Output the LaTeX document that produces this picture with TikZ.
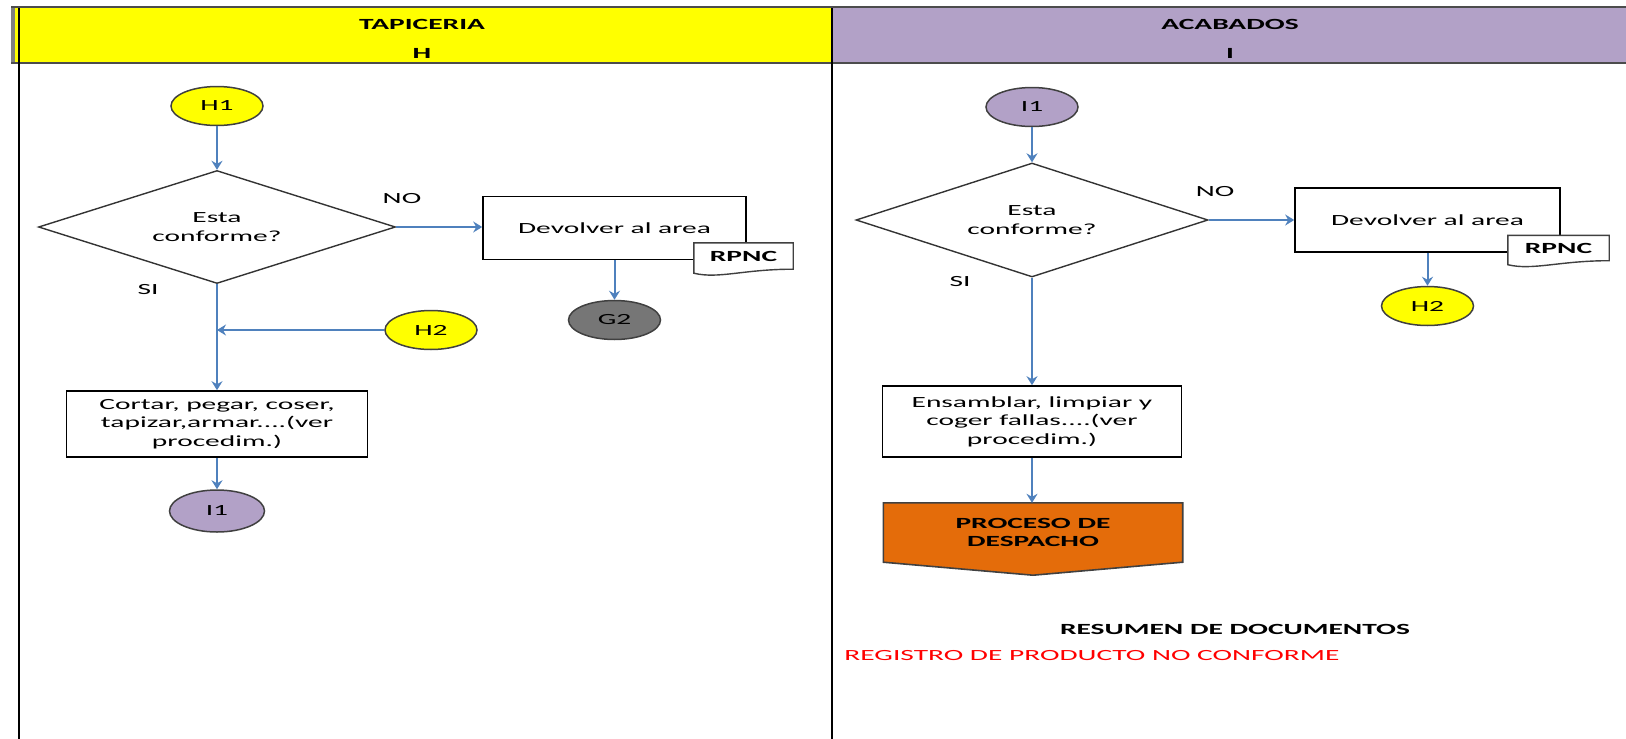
\documentclass[tikz,border=0pt]{standalone}
\usepackage{fontspec}
\setmainfont{Carlito}[FakeStretch=1.9]
\usetikzlibrary{arrows.meta,positioning,shapes.geometric}
\definecolor{amarillo}{HTML}{FFFF00}
\definecolor{lila}{HTML}{B2A1C7}
\definecolor{azul}{HTML}{4F81BD}
\definecolor{naranja}{HTML}{E46C0A}
\definecolor{gris}{HTML}{767676}
\newcommand{\fuente}{\fontsize{15.5}{18.6}\selectfont}
\tikzset{
    caja/.style={rectangle, draw=black, line width=1.6pt, fill=white, align=center, inner sep=0pt},
    decision/.style={diamond, draw=black!80, line width=1.4pt, aspect=3.1, inner sep=0pt, align=center},
    conector/.style={ellipse, draw=black!75, line width=1.5pt, minimum width=92pt, minimum height=39pt, inner sep=0pt},
    marco/.style={rectangle, inner sep=0pt},
    documento/.style={draw=black!75, line width=1.4pt, fill=white},
    pil/.style={->, >={Stealth[length=9pt,width=11pt,inset=3pt]}, line width=2pt, draw=azul}
}
\begin{document}
\begin{tikzpicture}[x=1pt, y=-1pt, font=\fuente]
    \useasboundingbox (0,0) rectangle (1626,739);
    % cabeceras de carril
    \fill[amarillo] (12,7) rectangle (832,63);
    \fill[lila] (832,7) rectangle (1626,63);
    \fill[gray] (11,7) rectangle (15,63);
    \draw[black!70, line width=1.6pt] (11,7) -- (1626,7);
    \draw[black!70, line width=2pt] (11,63) -- (1626,63);
    \draw[line width=2pt] (19,8) -- (19,739);
    \draw[line width=2pt] (832,8) -- (832,739);
    \node[font=\fuente\bfseries] (tapiceria) at (422,24) {TAPICERIA};
    \node[font=\fuente\bfseries] (letraH) at (422,53) {H};
    \node[font=\fuente\bfseries] (acabados) at (1230,24) {ACABADOS};
    \node[font=\fuente\bfseries] (letraI) at (1230,53) {I};

    % carril H
    \node[conector, fill=amarillo] (h1H) at (217,106) {H1};
    \node[decision, minimum width=357pt, minimum height=113pt] (condH) at (217,227)
      {Esta\\conforme?}
      edge[pil, <-] (h1H);
    \node[caja, minimum width=263pt, minimum height=63pt] (devH) at (614.5,228) {Devolver al area};
    \draw[pil] (condH.east) -- (condH.east -| devH.west);
    \node (noH) at (402,199) {NO};
    \node (siH) at (148,290) {SI};
    \node[marco, minimum width=99pt, minimum height=26pt] (rpncH) at (743.5,256) {};
    \draw[documento] (rpncH.north west) -- (rpncH.north east) -- (rpncH.south east)
      .. controls +(-50,0) and +(25,6) .. ([yshift=-4pt]rpncH.south west) -- cycle;
    \node[font=\fuente\bfseries] (rpncHtxt) at (rpncH) {RPNC};
    \node[conector, fill=gris] (g2H) at (614.5,320) {G2};
    \draw[pil] (devH.south) -- (g2H.north);
    \node[conector, fill=amarillo] (h2H) at (431,330) {H2};
    \draw[pil] (h2H.west) -- (h2H.west -| condH.south);
    \node[caja, minimum width=301pt, minimum height=66pt] (cortar) at (217,424)
      {Cortar, pegar, coser,\\tapizar,armar....(ver\\procedim.)};
    \draw[pil] (condH.south) -- (cortar.north);
    \node[conector, fill=lila, minimum width=95pt, minimum height=42pt] (i1H) at (217,511) {I1}
      edge[pil, <-] (cortar.south);

    % carril I
    \node[conector, fill=lila] (i1I) at (1032,107) {I1};
    \node[decision, minimum width=352pt, minimum height=114pt] (condI) at (1032,220)
      {Esta\\conforme?}
      edge[pil, <-] (i1I);
    \node[caja, minimum width=265pt, minimum height=64pt] (devI) at (1427.5,220) {Devolver al area};
    \draw[pil] (condI.east) -- (condI.east -| devI.west);
    \node (noI) at (1215,192) {NO};
    \node (siI) at (960,282) {SI};
    \node[marco, minimum width=101pt, minimum height=25pt] (rpncI) at (1558.5,248) {};
    \draw[documento] (rpncI.north west) -- (rpncI.north east) -- (rpncI.south east)
      .. controls +(-50,0) and +(25,6) .. ([yshift=-4pt]rpncI.south west) -- cycle;
    \node[font=\fuente\bfseries] (rpncItxt) at (rpncI) {RPNC};
    \node[conector, fill=amarillo] (h2I) at (1427.5,306) {H2};
    \draw[pil] (devI.south) -- (h2I.north);
    \node[caja, minimum width=299pt, minimum height=71pt] (ensamblar) at (1032,421.5)
      {Ensamblar, limpiar y\\coger fallas....(ver\\procedim.)};
    \draw[pil] (condI.south) -- (ensamblar.north);
    \node[marco, minimum width=299pt, minimum height=59pt] (despacho) at (1033,532.5) {};
    \draw[draw=black!75, line width=1.6pt, fill=naranja] (despacho.north west) -- (despacho.north east)
      -- (despacho.south east) -- ([yshift=-13pt]despacho.south) -- (despacho.south west) -- cycle;
    \node[font=\fuente\bfseries, align=center] (despachotxt) at (despacho) {PROCESO DE\\DESPACHO};
    \draw[pil] (ensamblar.south) -- (despacho.north -| ensamblar.south);

    % documentos
    \node[font=\fuente\bfseries] (resumen) at (1235,629) {RESUMEN DE DOCUMENTOS};
    \node[text=red] (registro) at (1092,656) {REGISTRO DE PRODUCTO NO CONFORME};
\end{tikzpicture}
\end{document}
